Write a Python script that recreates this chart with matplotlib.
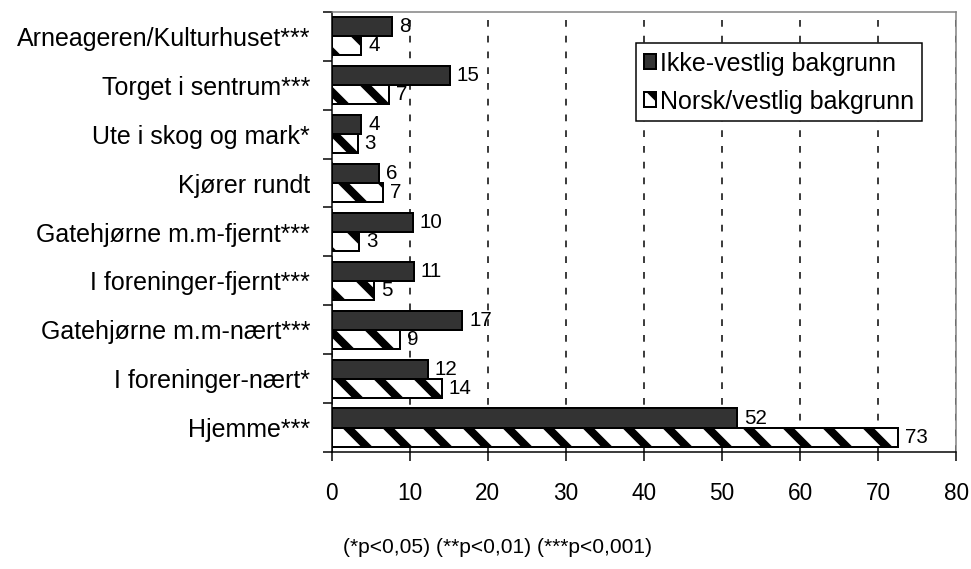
import matplotlib
matplotlib.use("Agg")
from matplotlib import pyplot as plt
import numpy as np

# high dpi so that the '\' hatch gets the wide stripe spacing of the original
DPI = 240

categories = ["Arneageren/Kulturhuset***", "Torget i sentrum***", "Ute i skog og mark*",
              "Kjører rundt", "Gatehjørne m.m-fjernt***", "I foreninger-fjernt***",
              "Gatehjørne m.m-nært***", "I foreninger-nært*", "Hjemme***"]
ikke_vestlig = [7.7, 15.1, 3.8, 6.1, 10.4, 10.5, 16.7, 12.3, 51.9]
norsk_vestlig = [3.8, 7.35, 3.3, 6.6, 3.45, 5.4, 8.7, 14.1, 72.6]
series_names = ["Ikke-vestlig bakgrunn", "Norsk/vestlig bakgrunn"]
x_ticks = list(range(0, 81, 10))
footnote = "(*p<0,05) (**p<0,01) (***p<0,001)"

plt.rcParams["font.family"] = ["Liberation Sans", "DejaVu Sans"]
plt.rcParams["hatch.linewidth"] = 2.4
plt.rcParams["hatch.color"] = "#2a2a2a"

fig = plt.figure(figsize=(971.2 / DPI, 569.2 / DPI), dpi=DPI)
ax = fig.add_axes([331.7 / 971, 1 - 452 / 569, (956 - 331.7) / 971, (452 - 12) / 569])

n = len(categories)
y = np.arange(n)[::-1]
h = 0.39

ax.barh(y + h / 2, ikke_vestlig, height=h, color="#333333", edgecolor="black",
        linewidth=0.6, label=series_names[0], zorder=3)
ax.barh(y - h / 2, norsk_vestlig, height=h, color="white", edgecolor="black",
        linewidth=0.6, hatch="\\\\", label=series_names[1], zorder=3)

for vals, off in [(ikke_vestlig, h / 2), (norsk_vestlig, -h / 2)]:
    for v, yy in zip(vals, y + off):
        ax.annotate(str(int(v + 0.5)), xy=(v, yy), xytext=(2.1, 0), textcoords="offset points",
                    ha="left", va="center", fontsize=6.15, zorder=4)

ax.set_xlim(0, 80)
ax.set_xticks(x_ticks)
ax.set_ylim(-0.5, n - 0.5)
ax.set_yticks(np.arange(-0.5, n, 1))
ax.set_yticklabels([])
ax.set_yticks(y, categories, minor=True)
ax.tick_params(axis="y", which="minor", length=0, pad=6.5, labelsize=7.5)
ax.tick_params(axis="y", which="major", length=2.7, width=0.45)
ax.tick_params(axis="x", length=2.7, width=0.45, pad=6.3, labelsize=6.75)

ax.grid(axis="x", color="black", linestyle=(0, (4.5, 6)), linewidth=0.45)
ax.set_axisbelow(True)

for side in ["left", "bottom"]:
    ax.spines[side].set_color("black")
    ax.spines[side].set_linewidth(0.45)
for side in ["top", "right"]:
    ax.spines[side].set_color("#808080")
    ax.spines[side].set_linewidth(0.45)

leg = ax.legend(loc="upper right", bbox_to_anchor=(922 / 971, 1 - 43.5 / 569),
                bbox_transform=fig.transFigure, fontsize=7.5, handlelength=0.5,
                handleheight=0.5, handletextpad=0.15, labelspacing=0.56, borderpad=0.32,
                borderaxespad=0, fancybox=False, framealpha=1, edgecolor="black")
leg.get_frame().set_linewidth(0.45)

fig.text(497 / 971, 1 - 547 / 569, footnote, ha="center", va="center", fontsize=6.3)

fig.savefig("out.png", dpi=DPI)
